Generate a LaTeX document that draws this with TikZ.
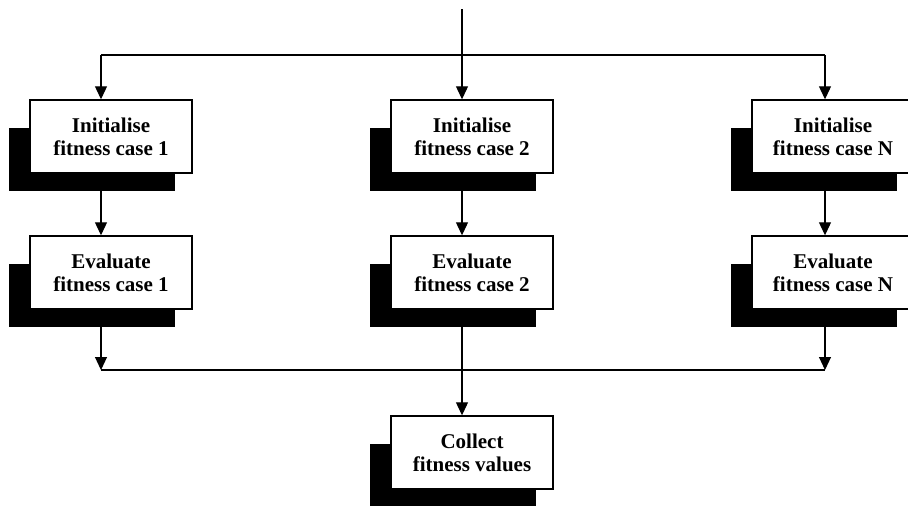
\documentclass[tikz,border=0pt]{standalone}
\usepackage{fontspec}
\setmainfont{Liberation Serif}
\usetikzlibrary{arrows.meta,backgrounds}

\tikzset{
  stage/.style={draw, line width=1.4pt, fill=white, minimum width=162pt, minimum height=73pt,
    inner sep=0pt, align=center, font=\bfseries\fontsize{21}{23}\selectfont},
  flow/.style={line width=1.1pt, -{Triangle[width=12pt,length=13pt]}},
  link/.style={line width=1.1pt},
}
% black block peeking out below and left of a box
\newcommand{\blockshadow}[1]{\fill ([xshift=-20pt,yshift=-29pt]#1.north west) rectangle ([xshift=-18pt,yshift=-17pt]#1.south east);}

\begin{document}
\begin{tikzpicture}[x=1pt,y=-1pt]
    \useasboundingbox (0,0) rectangle (908,506);

    % Boxes
    \node[stage] (init1) at (111,136.5) {Initialise\\fitness case 1};
    \node[stage] (init2) at (472,136.5) {Initialise\\fitness case 2};
    \node[stage] (initN) at (833,136.5) {Initialise\\fitness case N};
    \node[stage] (eval1) at (111,272.5) {Evaluate\\fitness case 1};
    \node[stage] (eval2) at (472,272.5) {Evaluate\\fitness case 2};
    \node[stage] (evalN) at (833,272.5) {Evaluate\\fitness case N};
    \node[stage] (collect) at (472,452.5) {Collect\\fitness values};

    \begin{pgfonlayer}{background}
        \foreach \b in {init1,init2,initN,eval1,eval2,evalN,collect}{
            \blockshadow{\b}
        }
    \end{pgfonlayer}

    % Split
    \coordinate (start) at (462,9);
    \foreach \c/\x in {1/101,2/462,N/825}
        \coordinate (col\c) at (\x,55);
    \coordinate (merge) at (462,370);

    \draw[link] (col1) -- (colN);
    \draw[flow] (start) -- (col2 |- init2.north);
    \draw[flow] (col1) -- (col1 |- init1.north);
    \draw[flow] (colN) -- (colN |- initN.north);

    \foreach \c in {1,2,N}
        \draw[flow] (col\c |- init\c.south) -- (col\c |- eval\c.north);

    % Merge
    \draw[link] (col1 |- merge) -- (colN |- merge);
    \draw[flow] (col1 |- eval1.south) -- (col1 |- merge);
    \draw[flow] (colN |- evalN.south) -- (colN |- merge);
    \draw[flow] (col2 |- eval2.south) -- (col2 |- collect.north);

\end{tikzpicture}
\end{document}
